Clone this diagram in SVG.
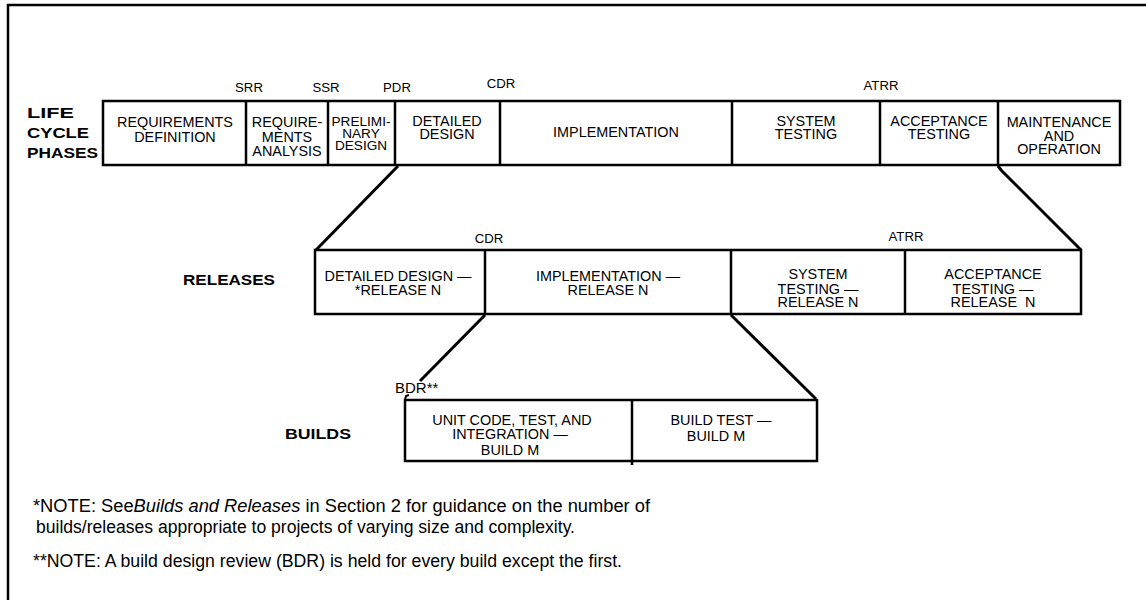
<svg xmlns="http://www.w3.org/2000/svg" width="1146" height="600" viewBox="0 0 1146 600">
<style>
.box{fill:none;stroke:#000;stroke-width:2.5}
.div{stroke:#000;stroke-width:2.5}
.con{stroke:#000;stroke-width:3;fill:none}
text{font-family:"Liberation Sans",Arial,Helvetica,sans-serif;fill:#000}
.t{font-size:14.4px;text-anchor:middle}
.tt{font-size:13.6px;text-anchor:middle}
.lbl{font-size:13.2px;text-anchor:middle}
.hd{font-size:15px;font-weight:bold}
.note{font-size:17.5px}
</style>
<rect width="1146" height="600" fill="#fff"/>
<g id="frame">
<path d="M8 600 V5 H1146" fill="none" stroke="#000" stroke-width="2.5"/>
</g>

<g id="connectors">
<path class="con" d="M398 166 L316 250"/>
<path class="con" d="M998 166 L1001 170 L1081 250"/>
<path class="con" d="M485 315 L420 381"/>
<path class="con" d="M731 315 L816 399"/>
<path d="M405 400 L406 396 L409 395" stroke="#000" stroke-width="2" fill="none"/>
</g>

<g id="lifecycle-label">
<text class="hd" x="27" y="118" textLength="47" lengthAdjust="spacingAndGlyphs">LIFE</text>
<text class="hd" x="27" y="138" textLength="62" lengthAdjust="spacingAndGlyphs">CYCLE</text>
<text class="hd" x="27" y="158" textLength="71" lengthAdjust="spacingAndGlyphs">PHASES</text>
</g>

<g id="milestones-top">
<text class="lbl" x="249" y="92">SRR</text>
<text class="lbl" x="326" y="92">SSR</text>
<text class="lbl" x="397" y="92">PDR</text>
<text class="lbl" x="501" y="88">CDR</text>
<text class="lbl" x="881" y="90">ATRR</text>
</g>

<g id="phases">
<rect class="box" x="103" y="101" width="1017" height="64"/>
<line class="div" x1="246" y1="101" x2="246" y2="165"/>
<line class="div" x1="328" y1="101" x2="328" y2="165"/>
<line class="div" x1="395" y1="101" x2="395" y2="165"/>
<line class="div" x1="500" y1="101" x2="500" y2="165"/>
<line class="div" x1="732" y1="101" x2="732" y2="165"/>
<line class="div" x1="880" y1="101" x2="880" y2="165"/>
<line class="div" x1="998" y1="101" x2="998" y2="165"/>
</g>
<g id="phase-req-def"><text class="t" x="175" y="127">REQUIREMENTS</text><text class="t" x="175" y="142">DEFINITION</text></g>
<g id="phase-req-analysis"><text class="t" x="287" y="127">REQUIRE-</text><text class="t" x="287" y="142">MENTS</text><text class="t" x="287" y="156">ANALYSIS</text></g>
<g id="phase-prelim"><text class="tt" x="361" y="126">PRELIMI-</text><text class="tt" x="361" y="138">NARY</text><text class="tt" x="361" y="150">DESIGN</text></g>
<g id="phase-detailed"><text class="t" x="447" y="126">DETAILED</text><text class="t" x="447" y="139">DESIGN</text></g>
<g id="phase-impl"><text class="t" x="616" y="137">IMPLEMENTATION</text></g>
<g id="phase-systest"><text class="t" x="806" y="126">SYSTEM</text><text class="t" x="806" y="139">TESTING</text></g>
<g id="phase-acctest"><text class="t" x="939" y="126">ACCEPTANCE</text><text class="t" x="939" y="139">TESTING</text></g>
<g id="phase-maint"><text class="t" x="1059" y="127">MAINTENANCE</text><text class="t" x="1059" y="141">AND</text><text class="t" x="1059" y="154">OPERATION</text></g>

<g id="releases-label"><text class="hd" x="183" y="285" textLength="92" lengthAdjust="spacingAndGlyphs">RELEASES</text></g>
<g id="milestones-rel">
<text class="lbl" x="489" y="243">CDR</text>
<text class="lbl" x="906" y="241">ATRR</text>
</g>
<g id="releases">
<rect class="box" x="315" y="250" width="766" height="64"/>
<line class="div" x1="485" y1="250" x2="485" y2="314"/>
<line class="div" x1="731" y1="250" x2="731" y2="314"/>
<line class="div" x1="905" y1="250" x2="905" y2="314"/>
</g>
<g id="rel-detailed"><text class="t" x="398" y="281">DETAILED DESIGN —</text><text class="t" x="398" y="295">*RELEASE N</text></g>
<g id="rel-impl"><text class="t" x="608" y="281">IMPLEMENTATION —</text><text class="t" x="608" y="295">RELEASE N</text></g>
<g id="rel-systest"><text class="t" x="818" y="279">SYSTEM</text><text class="t" x="818" y="294">TESTING —</text><text class="t" x="818" y="307">RELEASE N</text></g>
<g id="rel-acctest"><text class="t" x="993" y="279">ACCEPTANCE</text><text class="t" x="993" y="294">TESTING —</text><text class="t" x="993" y="307" xml:space="preserve">RELEASE  N</text></g>

<g id="builds-label"><text class="hd" x="285" y="439" textLength="66" lengthAdjust="spacingAndGlyphs">BUILDS</text></g>
<g id="bdr"><text x="395" y="393" style="font-size:15px">BDR**</text></g>
<g id="builds">
<rect class="box" x="405" y="400" width="412" height="61"/>
<line class="div" x1="632" y1="400" x2="632" y2="465"/>
</g>
<g id="build-unit"><text class="t" x="512" y="425">UNIT CODE, TEST, AND</text><text class="t" x="510" y="439">INTEGRATION —</text><text class="t" x="510" y="455">BUILD M</text></g>
<g id="build-test"><text class="t" x="721" y="425">BUILD TEST —</text><text class="t" x="716" y="441">BUILD M</text></g>

<g id="notes">
<text class="note" x="33" y="512" textLength="617" lengthAdjust="spacingAndGlyphs">*NOTE: See<tspan font-style="italic">Builds and Releases</tspan> in Section 2 for guidance on the number of</text>
<text class="note" x="36" y="533" textLength="539" lengthAdjust="spacingAndGlyphs">builds/releases appropriate to projects of varying size and complexity.</text>
<text class="note" x="33" y="567" textLength="589" lengthAdjust="spacingAndGlyphs">**NOTE: A build design review (BDR) is held for every build except the first.</text>
</g>
</svg>
